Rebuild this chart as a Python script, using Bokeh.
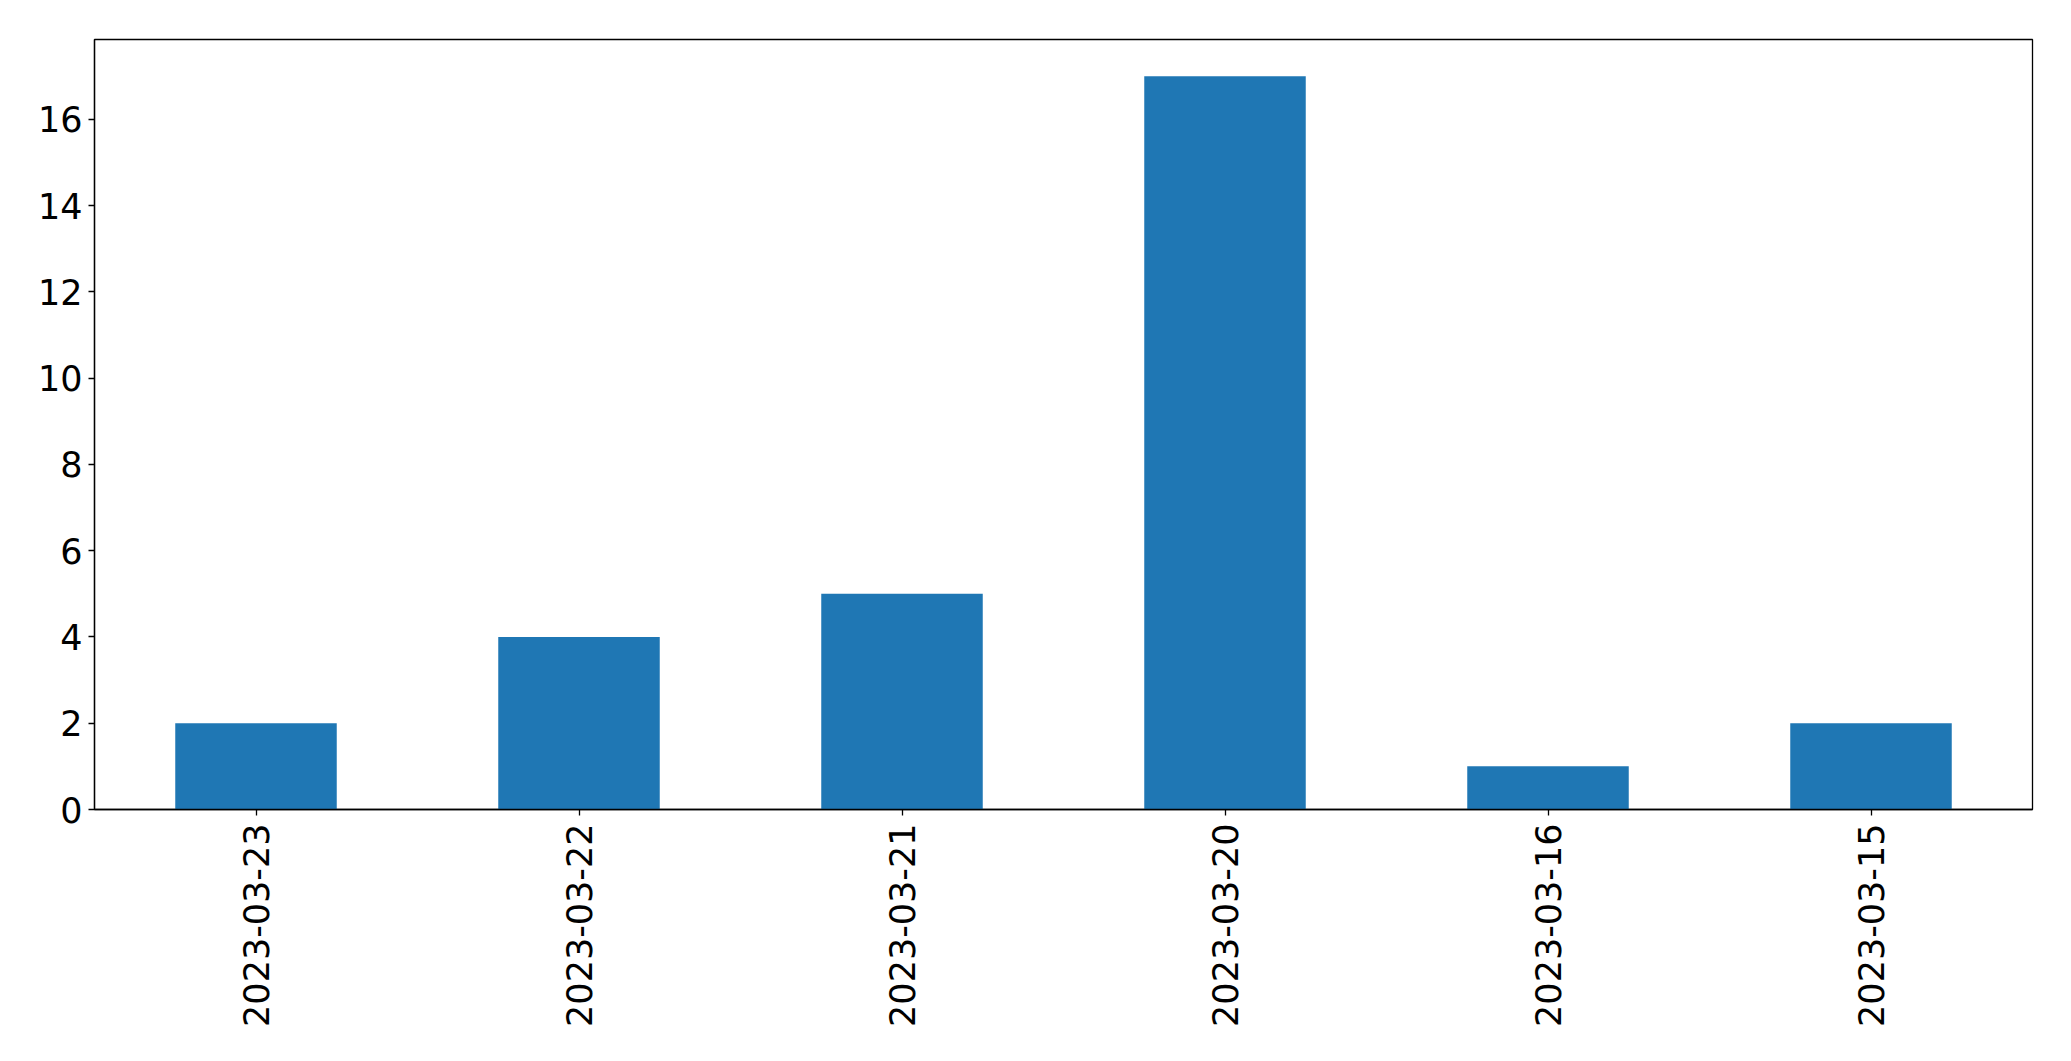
import math
from bokeh.plotting import figure
from bokeh.models import Range1d, FixedTicker
from bokeh.embed import file_html
from bokeh.resources import INLINE

dates = ["2023-03-23", "2023-03-22", "2023-03-21", "2023-03-20", "2023-03-16", "2023-03-15"]
counts = [2, 4, 5, 17, 1, 2]
y_ticks = [0, 2, 4, 6, 8, 10, 12, 14, 16]

p = figure(x_range=dates, y_range=Range1d(0, 17.85),
           frame_width=1938, frame_height=770,
           min_border_left=94, min_border_top=39, min_border_right=25, min_border_bottom=10,
           output_backend="svg", toolbar_location=None)

p.vbar(x=dates, top=counts, width=0.5, fill_color="#1f77b4", line_color=None)

p.xgrid.visible = False
p.ygrid.visible = False
p.outline_line_color = "black"
p.outline_line_width = 1.3
p.outline_line_alpha = 1

for ax in (p.xaxis, p.yaxis):
    ax.axis_line_color = "black"
    ax.axis_line_width = 1.3
    ax.major_tick_line_color = "black"
    ax.major_tick_line_width = 1.3
    ax.major_tick_in = 0
    ax.major_tick_out = 6
    ax.minor_tick_line_color = None
    ax.major_label_text_font = "DejaVu Sans"
    ax.major_label_text_font_size = "35px"
    ax.major_label_text_color = "black"

p.yaxis.ticker = FixedTicker(ticks=y_ticks)
p.yaxis.major_label_standoff = 6
p.xaxis.major_label_orientation = math.pi / 2
p.xaxis.major_label_standoff = 8

open("out.html", "w").write(file_html(p, INLINE))
